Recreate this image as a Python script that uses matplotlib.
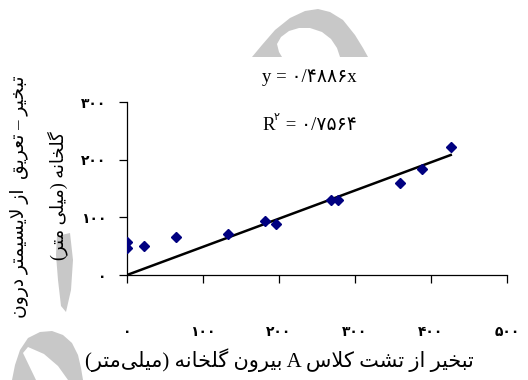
import re
import numpy as np
import matplotlib
matplotlib.use('Agg')
import matplotlib.pyplot as plt
from matplotlib.patches import Polygon
from matplotlib.ticker import FuncFormatter

# data (mm)
pan_evap = [0, 0, 22, 65, 133, 182, 196, 269, 277, 359, 388, 426]
lysimeter_et = [57, 46, 50, 66, 71, 94, 88, 130, 130, 160, 183, 222]
slope = 0.4886
r2 = 0.7564

xlabel_txt = 'تبخیر از تشت کلاس A بیرون گلخانه (میلی‌متر)'
ylabel_line1 = 'تبخیر – تعریق  از لایسیمتر درون'
ylabel_line2 = 'گلخانه (میلی متر)'

# --- tiny Persian shaper (matplotlib does not join Arabic letters) ---
forms = {
    'ا': ('\uFE8D', '\uFE8E', None, None),
    'ب': ('\uFE8F', '\uFE90', '\uFE91', '\uFE92'),
    'ت': ('\uFE95', '\uFE96', '\uFE97', '\uFE98'),
    'خ': ('\uFEA5', '\uFEA6', '\uFEA7', '\uFEA8'),
    'د': ('\uFEA9', '\uFEAA', None, None),
    'ر': ('\uFEAD', '\uFEAE', None, None),
    'ز': ('\uFEAF', '\uFEB0', None, None),
    'س': ('\uFEB1', '\uFEB2', '\uFEB3', '\uFEB4'),
    'ش': ('\uFEB5', '\uFEB6', '\uFEB7', '\uFEB8'),
    'ع': ('\uFEC9', '\uFECA', '\uFECB', '\uFECC'),
    'ق': ('\uFED5', '\uFED6', '\uFED7', '\uFED8'),
    'ل': ('\uFEDD', '\uFEDE', '\uFEDF', '\uFEE0'),
    'م': ('\uFEE1', '\uFEE2', '\uFEE3', '\uFEE4'),
    'ن': ('\uFEE5', '\uFEE6', '\uFEE7', '\uFEE8'),
    'ه': ('\uFEE9', '\uFEEA', '\uFEEB', '\uFEEC'),
    'و': ('\uFEED', '\uFEEE', None, None),
    'ی': ('\uFBFC', '\uFBFD', '\uFBFE', '\uFBFF'),
    'ک': ('\uFB8E', '\uFB8F', '\uFB90', '\uFB91'),
    'گ': ('\uFB92', '\uFB93', '\uFB94', '\uFB95'),
}


def dual(c):
    return c in forms and forms[c][2] is not None


def shape(text):
    out = []
    i = 0
    n = len(text)
    while i < n:
        c = text[i]
        if c not in forms:
            if c != '\u200c':
                out.append(c)
            i += 1
            continue
        link_prev = i > 0 and dual(text[i-1])
        if c == 'ل' and i + 1 < n and text[i+1] == 'ا':
            out.append('\uFEFC' if link_prev else '\uFEFB')
            i += 2
            continue
        link_next = dual(c) and i + 1 < n and text[i+1] in forms
        iso, fin, ini, med = forms[c]
        if link_prev and link_next:
            out.append(med)
        elif link_prev:
            out.append(fin)
        elif link_next:
            out.append(ini)
        else:
            out.append(iso)
        i += 1
    return ''.join(out)


def fa(text):
    toks = re.findall(r'[A-Za-z0-9\u06F0-\u06F9]+|.', shape(text))
    mirror = {'(': ')', ')': '('}
    return ''.join(mirror.get(t, t) for t in reversed(toks))


fa_digits = str.maketrans('0123456789.', '۰۱۲۳۴۵۶۷۸۹/')


def fa_num(v):
    return str(v).translate(fa_digits)


W, H = 528, 380
serif = ['Liberation Serif', 'DejaVu Sans']

fig = plt.figure(figsize=(W/100, H/100), dpi=100)


def px(x, y):
    return (x / W, 1 - y / H)


# grey watermark pieces behind the chart
grey = '#c8c8c8'
top_arc = [(252, 57), (262, 45), (275, 30), (290, 18), (305, 11), (318, 9), (330, 12),
           (343, 20), (355, 35), (363, 48), (368, 57), (340, 57), (337, 48), (331, 39),
           (322, 32), (310, 28), (299, 28), (289, 31), (281, 37), (277, 44), (279, 52), (282, 57)]
side = [(57, 236), (70, 233), (73, 260), (71, 290), (66, 312), (61, 306), (58, 280), (56, 255)]
low = [(12, 380), (15, 365), (20, 350), (28, 338), (40, 332), (52, 331), (63, 335),
       (72, 343), (78, 355), (81, 368), (83, 380)]
low_cut = [(23, 353), (28, 347), (44, 354), (58, 366), (68, 380), (36, 380)]
for pts, col in [(top_arc, grey), (side, grey), (low, grey), (low_cut, 'white')]:
    fig.patches.append(Polygon([px(*p) for p in pts], closed=True, fc=col, ec='none',
                               transform=fig.transFigure, zorder=-2))

ax = fig.add_axes([127/W, 1 - 275/H, (507-127)/W, (275-102)/H])
ax.set_facecolor('none')

ax.plot(pan_evap, lysimeter_et, linestyle='none', marker='D', markersize=5.5,
        color='#000080', zorder=3)
xfit = np.array([0, max(pan_evap)])
ax.plot(xfit, slope * xfit, color='black', linewidth=1.8, zorder=2)

ax.set_xlim(0, 500)
ax.set_ylim(0, 300)
ax.set_xticks([0, 100, 200, 300, 400, 500])
ax.set_yticks([0, 100, 200, 300])
fmt = FuncFormatter(lambda v, p: fa_num(int(v)))
ax.xaxis.set_major_formatter(fmt)
ax.yaxis.set_major_formatter(fmt)
for s in ['top', 'right']:
    ax.spines[s].set_visible(False)
for s in ['left', 'bottom']:
    ax.spines[s].set_linewidth(0.9)
ax.tick_params(axis='x', direction='out', length=6, width=0.9, pad=30)
ax.tick_params(axis='y', direction='out', length=6, width=0.9, pad=9)
for lab in ax.get_xticklabels() + ax.get_yticklabels():
    lab.set_fontfamily('DejaVu Sans')
    lab.set_fontweight('bold')
    lab.set_fontsize(10)

# regression text
fig.text(*px(309, 77), 'y = ' + fa_num(slope) + 'x', family=serif, fontsize=13.5,
         ha='center', va='center')
fig.text(*px(262, 125), 'R', family=serif, fontsize=13.5, ha='left', va='center')
fig.text(*px(274, 117), fa_num(2), family=serif, fontsize=8, ha='left', va='center')
fig.text(*px(281, 125), ' = ' + fa_num(r2), family=serif, fontsize=13.5, ha='left', va='center')

# axis titles
fig.text(*px(279, 360), fa(xlabel_txt), family=serif, fontsize=15, ha='center', va='center')
fig.text(*px(20, 197), fa(ylabel_line1), family=serif, fontsize=13.5, rotation=90,
         ha='center', va='center')
fig.text(*px(58, 196), fa(ylabel_line2), family=serif, fontsize=13, rotation=90,
         ha='center', va='center')

fig.savefig('out.png', dpi=100)
